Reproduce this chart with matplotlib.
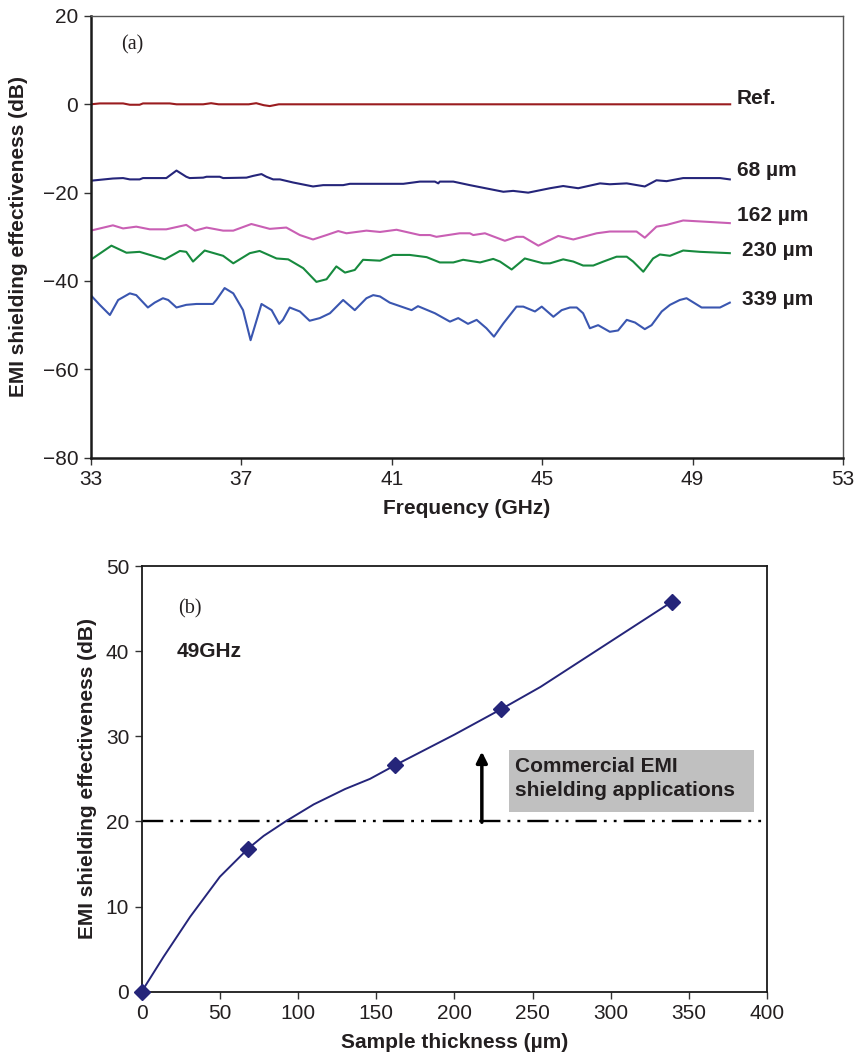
import matplotlib
matplotlib.use("Agg")
import matplotlib.pyplot as plt
from matplotlib.patches import Rectangle

plt.rcParams['font.family'] = ['Liberation Sans', 'DejaVu Sans']

# (a) shielding effectiveness vs frequency
ref_f = [33.0, 33.24, 33.86, 34.04, 34.3, 34.39, 35.1, 35.28, 35.99, 36.2, 36.4, 37.2, 37.4, 37.6, 37.76, 38.0, 50.0]
ref_db = [0.0, 0.2, 0.2, -0.1, -0.1, 0.2, 0.2, 0.0, 0.0, 0.25, 0.0, 0.0, 0.25, -0.2, -0.4, 0.0, 0.0]

s68_f = [33.0, 33.59, 33.86, 34.04, 34.3, 34.39, 35.01, 35.28, 35.54, 35.63, 35.99, 36.08, 36.43, 36.52, 37.14,
         37.32, 37.54, 37.67, 37.85, 38.03, 38.38, 38.91, 39.18, 39.71, 39.89, 40.69, 41.31, 41.75, 42.15, 42.24,
         42.28, 42.64, 43.08, 43.97, 44.23, 44.63, 45.21, 45.56, 45.96, 46.54, 46.8, 47.25, 47.73, 48.04, 48.31,
         48.75, 49.73, 49.99]
s68_db = [-17.3, -16.8, -16.7, -17.0, -17.0, -16.7, -16.7, -15.0, -16.4, -16.7, -16.6, -16.4, -16.4, -16.7, -16.6,
          -16.2, -15.8, -16.4, -17.0, -17.0, -17.7, -18.6, -18.3, -18.3, -18.0, -18.0, -18.0, -17.5, -17.5, -17.9,
          -17.5, -17.5, -18.3, -19.8, -19.6, -20.0, -19.0, -18.5, -19.0, -17.9, -18.1, -17.9, -18.6, -17.2, -17.4,
          -16.7, -16.7, -17.0]

s162_f = [33.0, 33.59, 33.86, 34.21, 34.57, 35.01, 35.54, 35.77, 36.08, 36.52, 36.79, 37.27, 37.76, 38.2, 38.56,
          38.91, 39.27, 39.58, 39.8, 40.33, 40.69, 41.13, 41.75, 42.02, 42.19, 42.81, 43.08, 43.17, 43.48, 44.01,
          44.32, 44.5, 44.9, 45.43, 45.83, 46.45, 46.8, 47.51, 47.73, 48.04, 48.31, 48.75, 49.38, 49.99]
s162_db = [-28.6, -27.4, -28.1, -27.7, -28.3, -28.3, -27.3, -28.6, -27.9, -28.6, -28.6, -27.1, -28.2, -27.9, -29.6,
           -30.6, -29.6, -28.7, -29.2, -28.6, -28.9, -28.4, -29.6, -29.6, -30.0, -29.2, -29.2, -29.6, -29.2, -30.9,
           -30.0, -30.0, -32.0, -29.8, -30.6, -29.2, -28.8, -28.8, -30.2, -27.7, -27.3, -26.3, -26.6, -26.9]

s230_f = [33.0, 33.55, 33.95, 34.3, 34.97, 35.37, 35.54, 35.72, 36.03, 36.52, 36.79, 37.23, 37.49, 37.94, 38.25,
          38.65, 39.0, 39.27, 39.53, 39.76, 40.02, 40.24, 40.69, 41.04, 41.48, 41.93, 42.28, 42.64, 42.9, 43.35,
          43.7, 43.88, 44.19, 44.54, 45.03, 45.21, 45.56, 45.83, 46.09, 46.36, 46.63, 46.98, 47.25, 47.42, 47.69,
          47.95, 48.13, 48.4, 48.75, 49.2, 49.99]
s230_db = [-35.2, -32.0, -33.6, -33.4, -35.1, -33.2, -33.4, -35.6, -33.1, -34.3, -36.0, -33.7, -33.2, -34.9, -35.1,
           -37.1, -40.2, -39.6, -36.7, -38.1, -37.5, -35.2, -35.4, -34.1, -34.1, -34.6, -35.8, -35.8, -35.2, -35.8,
           -35.0, -35.6, -37.4, -34.9, -36.0, -36.0, -35.1, -35.6, -36.5, -36.5, -35.6, -34.5, -34.5, -35.6, -37.9,
           -34.9, -34.0, -34.3, -33.1, -33.4, -33.7]

s339_f = [33.0, 33.24, 33.51, 33.73, 34.04, 34.21, 34.52, 34.7, 34.92, 35.06, 35.28, 35.54, 35.81, 36.08, 36.25,
          36.34, 36.56, 36.79, 37.05, 37.25, 37.36, 37.54, 37.81, 38.01, 38.11, 38.29, 38.56, 38.82, 39.09, 39.36,
          39.71, 40.02, 40.33, 40.51, 40.69, 40.95, 41.53, 41.7, 42.15, 42.55, 42.77, 43.03, 43.26, 43.52, 43.72,
          43.97, 44.32, 44.5, 44.81, 44.99, 45.3, 45.52, 45.74, 45.92, 46.09, 46.27, 46.49, 46.8, 47.02, 47.25,
          47.47, 47.73, 47.91, 48.18, 48.4, 48.66, 48.84, 49.24, 49.73, 49.99]
s339_db = [-43.2, -45.4, -47.7, -44.3, -42.8, -43.2, -46.0, -44.9, -43.9, -44.3, -46.0, -45.4, -45.2, -45.2, -45.2,
           -44.3, -41.6, -42.8, -46.6, -53.4, -50.3, -45.2, -46.6, -49.7, -48.8, -46.0, -46.9, -49.0, -48.4, -47.3,
           -44.3, -46.6, -43.9, -43.2, -43.5, -44.9, -46.6, -45.7, -47.3, -49.2, -48.4, -49.7, -48.8, -50.7, -52.6,
           -49.6, -45.8, -45.8, -46.9, -45.8, -48.1, -46.6, -46.0, -46.0, -47.3, -50.7, -50.0, -51.5, -51.2, -48.8,
           -49.4, -50.9, -50.0, -46.9, -45.4, -44.3, -43.9, -46.0, -46.0, -44.9]

series_labels = ["Ref.", "68 µm", "162 µm", "230 µm", "339 µm"]
series_colors = ["#9a1c1f", "#25257a", "#c95fb4", "#178a3e", "#3a56b0"]

# (b) shielding effectiveness at 49 GHz vs thickness
thick_pts = [0, 68, 162, 230, 339]
se_pts = [0.0, 16.8, 26.6, 33.2, 45.8]
thick_line = [0, 14, 31, 50, 68, 78, 92, 110, 130, 146, 162, 200, 230, 255, 339]
se_line = [0.0, 4.1, 8.8, 13.5, 16.8, 18.3, 20.0, 22.0, 23.8, 25.0, 26.6, 30.2, 33.2, 35.8, 45.8]
commercial_level = 20

TXT = "#231f20"
TICK_FS = 15
LAB_FS = 15

fig = plt.figure(figsize=(8.55, 10.57), dpi=100)

# ---------- panel (a) ----------
ax1 = fig.add_axes([0.1061, 0.5670, 0.8799, 0.4179])
all_f = [ref_f, s68_f, s162_f, s230_f, s339_f]
all_db = [ref_db, s68_db, s162_db, s230_db, s339_db]
for f, db, c in zip(all_f, all_db, series_colors):
    ax1.plot(f, db, color=c, lw=1.5, solid_joinstyle="round")

lab_pos = [(50.18, 1.4), (50.18, -14.9), (50.18, -25.1), (50.31, -33.2), (50.31, -44.3)]
for (x, y), s in zip(lab_pos, series_labels):
    ax1.text(x, y, s, fontsize=LAB_FS, fontweight="bold", color=TXT, va="center", ha="left")

ax1.set_xlim(33, 53)
ax1.set_ylim(-80, 20)
ax1.set_xticks(range(33, 54, 4))
ax1.set_yticks(range(-80, 21, 20))
ax1.text(0.04, 0.935, "(a)", transform=ax1.transAxes, fontsize=14.5,
         family=["Liberation Serif", "DejaVu Serif"], color=TXT, va="center")
ax1.set_xlabel("Frequency (GHz)", fontsize=LAB_FS, fontweight="bold", color=TXT, va="center")
ax1.xaxis.set_label_coords(0.5, -0.114)
ax1.set_ylabel("EMI shielding effectiveness (dB)", fontsize=LAB_FS, fontweight="bold", color=TXT, va="center")
ax1.yaxis.set_label_coords(-0.0966, 0.5)
for side in ["top", "right"]:
    ax1.spines[side].set_color("#555555")
    ax1.spines[side].set_linewidth(1.0)
for side in ["left", "bottom"]:
    ax1.spines[side].set_color("#1a1a1a")
    ax1.spines[side].set_linewidth(1.8)
ax1.tick_params(direction="out", length=5, width=1, pad=4, labelsize=TICK_FS, labelcolor=TXT, color="#333333")

# ---------- panel (b) ----------
ax2 = fig.add_axes([0.1657, 0.0618, 0.7317, 0.4027])
ax2.plot(thick_line, se_line, color="#25257a", lw=1.4, zorder=3, solid_joinstyle="round")
ax2.plot(thick_pts, se_pts, ls="none", marker="D", ms=8.5, color="#25257a", clip_on=False, zorder=4)
ax2.plot([0, 400], [commercial_level, commercial_level], color="black", lw=1.7,
         ls=(0, (9, 3, 1.2, 3, 1.2, 3)), zorder=2)
ax2.add_patch(Rectangle((234.9, 21.1), 156.6, 7.3, facecolor="#c0c0c0", edgecolor="none", zorder=1))
ax2.text(239.0, 25.05, "Commercial EMI\nshielding applications", fontsize=LAB_FS, fontweight="bold",
         color=TXT, va="center", ha="left", linespacing=1.3, zorder=5)
ax2.annotate("", xy=(217.5, 28.2), xytext=(217.5, 19.9),
             arrowprops=dict(arrowstyle="-|>", lw=2.5, color="black", mutation_scale=16, shrinkA=0, shrinkB=0))

ax2.set_xlim(0, 400)
ax2.set_ylim(0, 50)
ax2.set_xticks(range(0, 401, 50))
ax2.set_yticks(range(0, 51, 10))
ax2.text(0.058, 0.9, "(b)", transform=ax2.transAxes, fontsize=14.5,
         family=["Liberation Serif", "DejaVu Serif"], color=TXT, va="center")
ax2.text(0.056, 0.8, "49GHz", transform=ax2.transAxes, fontsize=LAB_FS, fontweight="bold",
         color=TXT, va="center")
ax2.set_xlabel("Sample thickness (µm)", fontsize=LAB_FS, fontweight="bold", color=TXT, va="center")
ax2.xaxis.set_label_coords(0.5, -0.1205)
ax2.set_ylabel("EMI shielding effectiveness (dB)", fontsize=LAB_FS, fontweight="bold", color=TXT, va="center")
ax2.yaxis.set_label_coords(-0.0858, 0.5)
for side in ax2.spines:
    ax2.spines[side].set_color("#1a1a1a")
    ax2.spines[side].set_linewidth(1.3)
ax2.tick_params(direction="out", length=5, width=1, pad=4, labelsize=TICK_FS, labelcolor=TXT, color="#333333")

fig.savefig("out.png", dpi=100)
